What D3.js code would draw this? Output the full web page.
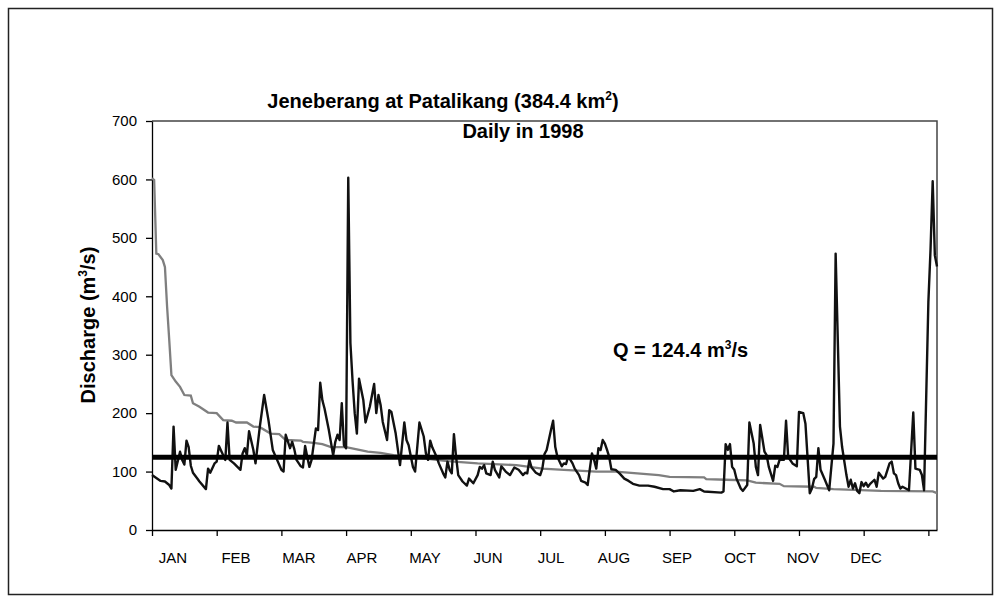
<!doctype html>
<html>
<head>
<meta charset="utf-8"/>
<script src="https://cdnjs.cloudflare.com/ajax/libs/d3/7.8.5/d3.min.js"></script>
<style>
  body { margin: 0; background: #fff; }
  text { font-family: "Liberation Sans", Arial, sans-serif; fill: #000; }
  .axis text { font-size: 15px; }
  .axis path, .axis line { stroke: #000; stroke-width: 1.3px; }
  .bold { font-weight: bold; font-size: 20px; }
</style>
</head>
<body>
<svg width="1001" height="603"></svg>
<script>
// y axis ticks and month labels
var yTicks = [0, 100, 200, 300, 400, 500, 600, 700];
var months = ["JAN","FEB","MAR","APR","MAY","JUN","JUL","AUG","SEP","OCT","NOV","DEC"];
var tickDays = [0, 30, 60, 90, 120, 150, 180, 210, 240, 270, 300, 330, 360];

// daily discharge 1998 (day of year from 0, m3/s) read at the visible turning points
var obsDay = [0,2,4,6,8,9,10,11,13,14,15,16,17,18,19,21,22,25,26,27,29,30,31,33,34,35,36,38,41,42,43,44,45,47,48,50,52,54,56,58,60,61,62,64,65,66,67,69,70,71,72,73,74,76,77,78,79,80,82,84,85,86,87,88,89,90,91,92,93,94,95,96,98,99,101,103,104,105,106,107,109,110,111,113,115,117,118,119,121,122,124,126,127,128,129,130,132,133,135,136,137,138,139,140,141,142,144,146,147,149,151,152,153,154,155,157,158,159,161,162,164,166,168,170,172,173,174,175,176,178,180,181,182,183,185,186,187,188,190,191,192,193,195,196,198,199,201,202,204,205,206,207,208,209,210,211,212,213,215,217,219,221,223,226,230,233,237,240,242,245,251,254,256,264,265,266,267,268,269,270,271,273,274,276,277,279,280,281,282,284,285,286,288,289,290,291,293,294,295,297,299,300,302,303,305,306,307,308,309,310,312,314,316,317,319,320,322,323,324,325,326,327,328,329,330,331,332,333,335,336,337,339,340,342,343,344,345,346,347,348,351,353,354,356,357,358,360,361,362,363,364];
var obsQ = [94,89,84,83,77,71,177,103,134,120,112,153,142,110,98,88,83,70,105,98,114,117,144,128,120,184,120,114,103,131,140,128,169,137,114,177,231,188,137,120,103,100,163,140,151,138,120,109,107,144,125,108,120,174,171,252,222,208,171,128,151,163,154,217,145,140,603,320,255,200,165,259,222,184,211,250,200,231,214,185,154,205,202,165,111,184,154,145,108,100,184,160,131,120,153,141,125,114,97,90,117,103,97,164,125,94,83,76,88,80,94,108,105,111,97,94,117,103,90,109,100,94,107,103,94,98,97,120,107,98,94,105,130,137,171,187,142,125,109,114,113,126,114,105,94,84,81,77,131,120,105,140,137,154,148,137,125,104,103,96,88,84,79,76,76,74,70,70,66,68,67,70,66,64,66,147,137,147,108,103,88,71,67,77,184,148,108,94,180,134,128,108,84,110,108,120,120,187,125,114,109,202,200,182,63,71,87,91,140,103,86,68,148,473,177,142,94,74,86,71,80,67,63,82,75,81,74,79,86,74,98,88,91,114,117,97,94,80,71,74,68,201,105,103,94,68,390,480,597,470,451];

// flow duration curve (same x positions)
var durDay = [0,1,2,3,5,6,7,8,9,11,13,15,18,19,22,26,30,33,37,39,44,47,50,55,59,62,69,70,75,79,83,90,95,100,106,112,118,125,137,151,169,181,191,206,215,225,235,240,256,257,266,276,280,291,293,307,308,316,338,362,364];
var durQ = [602,599,473,472,462,450,382,325,265,254,245,231,230,217,211,201,200,188,187,184,184,177,176,165,164,154,153,151,149,147,142,142,138,134,132,128,125,123,118,114,111,105,103,100,100,97,94,91,90,87,86,85,81,79,75,74,72,70,67,66,63];

var meanQ = 124.4;

var svg = d3.select("svg");

// outer frame
svg.append("rect")
  .attr("x", 8.5).attr("y", 8.5).attr("width", 984).attr("height", 586)
  .attr("fill", "none").attr("stroke", "#222").attr("stroke-width", 1.5);

var pLeft = 152, pRight = 937, pTop = 121, pBottom = 530;

var x = d3.scaleLinear().domain([0, 364]).range([pLeft, pRight]);
var y = d3.scaleLinear().domain([0, 700]).range([pBottom, pTop]);
var xLab = d3.scalePoint().domain(months).range([173, 866]);

// plot frame (top and right)
svg.append("path")
  .attr("d", "M" + pLeft + "," + pTop + "H" + pRight + "V" + pBottom)
  .attr("fill", "none").attr("stroke", "#444").attr("stroke-width", 1.5);

svg.append("g")
  .attr("class", "axis")
  .attr("transform", "translate(" + pLeft + ",0)")
  .call(d3.axisLeft(y).tickValues(yTicks).tickSize(6).tickSizeOuter(0).tickPadding(9));

svg.append("g")
  .attr("class", "axis")
  .attr("transform", "translate(0," + pBottom + ")")
  .call(d3.axisBottom(x).tickValues(tickDays).tickSize(6).tickSizeOuter(0).tickFormat(""));

svg.append("g")
  .selectAll("text")
  .data(months)
  .enter()
  .append("text")
  .attr("x", d => xLab(d))
  .attr("y", 563)
  .attr("text-anchor", "middle")
  .style("font-size", "15px")
  .text(d => d);

var line = d3.line().x(d => x(d[0])).y(d => y(d[1]));

svg.append("path")
  .datum(d3.zip(durDay, durQ))
  .attr("d", line)
  .attr("fill", "none").attr("stroke", "#7f7f7f").attr("stroke-width", 2.3);

svg.append("path")
  .datum(d3.zip(obsDay, obsQ))
  .attr("d", line)
  .attr("fill", "none").attr("stroke", "#111").attr("stroke-width", 2.4)
  .attr("stroke-linejoin", "round");

svg.append("line")
  .attr("x1", pLeft).attr("x2", pRight)
  .attr("y1", y(meanQ)).attr("y2", y(meanQ))
  .attr("stroke", "#000").attr("stroke-width", 5);

// titles
var t1 = svg.append("text").attr("class", "bold").attr("x", 443).attr("y", 108).attr("text-anchor", "middle");
t1.append("tspan").text("Jeneberang at Patalikang (384.4 km");
t1.append("tspan").attr("dy", -8).style("font-size", "12px").text("2");
t1.append("tspan").attr("dy", 8).text(")");

svg.append("text").attr("class", "bold").attr("x", 523).attr("y", 138)
  .attr("text-anchor", "middle").text("Daily in 1998");

var yl = svg.append("text").attr("class", "bold")
  .attr("transform", "translate(95,325) rotate(-90)")
  .attr("text-anchor", "middle");
yl.append("tspan").text("Discharge (m");
yl.append("tspan").attr("dy", -8).style("font-size", "12px").text("3");
yl.append("tspan").attr("dy", 8).text("/s)");

var q = svg.append("text").attr("class", "bold").attr("x", 613).attr("y", 357);
q.append("tspan").text("Q = 124.4 m");
q.append("tspan").attr("dy", -8).style("font-size", "12px").text("3");
q.append("tspan").attr("dy", 8).text("/s");
</script>
</body>
</html>
